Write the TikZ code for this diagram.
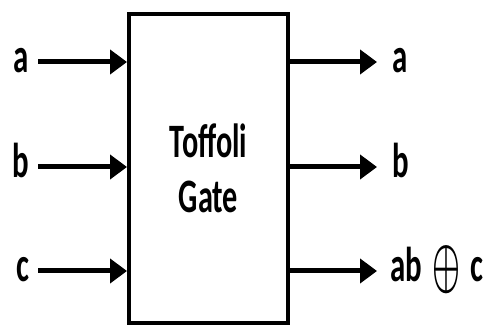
\documentclass[tikz,border=0pt]{standalone}
\usepackage{amsmath}
\usepackage{fontspec}
\setmainfont{Carlito}[FakeStretch=0.63]
\usepackage{graphicx}
\usetikzlibrary{positioning,arrows.meta}
\newcommand{\bigxor}{\raisebox{-4pt}{\resizebox{28pt}{40pt}{$\boldsymbol{\oplus}$}}}
\tikzset{
  gatebox/.style={rectangle,draw=black,line width=4pt,minimum width=159pt,minimum height=309pt,inner sep=0pt},
  wirelbl/.style={inner sep=0pt,text height=22pt,text depth=0pt,font=\fontsize{49}{53}\selectfont\bfseries},
  wire/.style={line width=5pt,-{Triangle[length=17pt,width=24pt]}}
}

\begin{document}
\begin{tikzpicture}[x=1pt,y=1pt]
\useasboundingbox (0,0) rectangle (502,331);
\node[gatebox] (gate) at (208.5,162.5) {};
\node[align=center,font=\fontsize{48}{55}\selectfont\bfseries] (name) at (gate.center) {Toffoli\\Gate};
% inputs
\node[wirelbl,anchor=east,outer sep=9pt] (ina) at (38,269) {a};
\node[wirelbl,anchor=east,outer sep=9pt] (inb) at (38,164) {b};
\node[wirelbl,anchor=east,outer sep=9pt] (inc) at (38,60) {c};
\draw[wire] (ina) -- (ina -| gate.west);
\draw[wire] (inb) -- (inb -| gate.west);
\draw[wire] (inc) -- (inc -| gate.west);
% outputs
\node[wirelbl,anchor=west,outer sep=15pt] (outa) at (377,269) {a};
\node[wirelbl,anchor=west,outer sep=15pt] (outb) at (377,164) {b};
\node[wirelbl,anchor=west,outer sep=13pt] (outc) at (377,60) {ab\hspace{11pt}\bigxor\hspace{10pt}c};
\draw[wire] (outa -| gate.east) -- (outa);
\draw[wire] (outb -| gate.east) -- (outb);
\draw[wire] (outc -| gate.east) -- (outc);
\end{tikzpicture}
\end{document}
